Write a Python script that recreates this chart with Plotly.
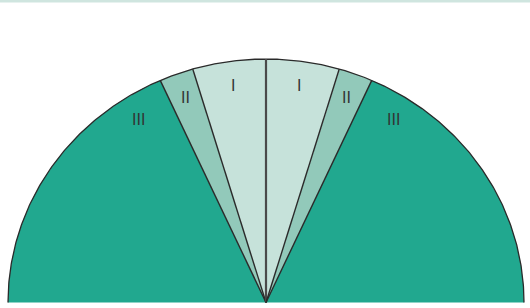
import numpy as np
import plotly.graph_objects as go

# Sector labels and angular spans (degrees), left half from the left horizon to the top
labels_left = ["III", "II", "I"]
spans_left = [65.8, 7.7, 16.5]
labels_right = ["I", "II", "III"]
spans_right = [16.5, 7.7, 65.8]

colors = {"I": "#c6e2da", "II": "#92c9ba", "III": "#21a88f"}

labels = labels_left + labels_right
spans = spans_left + spans_right

fig = go.Figure()

def pt(theta_deg, r=1.0):
    t = np.radians(theta_deg)
    return r * np.cos(t), r * np.sin(t)

start = 180.0
bounds = []
label_pos = []
for lab, sp in zip(labels, spans):
    a0 = start
    a1 = start - sp
    th = np.linspace(a0, a1, 80)
    xs = [0] + list(np.cos(np.radians(th))) + [0]
    ys = [0] + list(np.sin(np.radians(th))) + [0]
    fig.add_trace(go.Scatter(x=xs, y=ys, mode="lines", fill="toself",
                             fillcolor=colors[lab], line=dict(width=0),
                             hoverinfo="skip", showlegend=False))
    bounds.append(a1)
    if lab == "III" and a0 == 180.0:
        la = a1 + 9
    elif lab == "III":
        la = a0 - 9
    else:
        la = (a0 + a1) / 2
    label_pos.append((lab, la))
    start = a1

# outer arc
th = np.linspace(180, 0, 400)
fig.add_trace(go.Scatter(x=np.cos(np.radians(th)), y=np.sin(np.radians(th)),
                         mode="lines", line=dict(color="#2a2a2a", width=1.3),
                         hoverinfo="skip", showlegend=False))
# radial boundaries
for b in bounds[:-1]:
    x1, y1 = pt(b)
    center = abs(b - 90) < 1e-6
    fig.add_trace(go.Scatter(x=[0, x1], y=[0, y1], mode="lines",
                             line=dict(color="#4a4a4a" if center else "#2a2a2a",
                                       width=2.2 if center else 1.4),
                             hoverinfo="skip", showlegend=False))

for lab, la in label_pos:
    x, y = pt(la, 0.9)
    fig.add_annotation(x=x, y=y, text=lab, showarrow=False,
                       font=dict(family="Liberation Sans, Arial", size=16, color="#333333"))

fig.add_shape(type="rect", xref="paper", yref="paper", x0=0, x1=1,
              y0=1 - 2.5 / 308, y1=1, fillcolor="#cfe5df", line=dict(width=0), layer="above")

fig.update_layout(
    width=530, height=308, autosize=False,
    margin=dict(l=0, r=0, t=0, b=0),
    paper_bgcolor="white", plot_bgcolor="white",
    xaxis=dict(range=[-266 / 258, 264 / 258], visible=False, fixedrange=True),
    yaxis=dict(range=[-5.5 / 243.5, 302.5 / 243.5], visible=False, fixedrange=True),
)

fig.write_html("out.html", config={"displayModeBar": False},
               post_script="document.body.style.margin='0px';document.body.style.overflow='hidden';")
